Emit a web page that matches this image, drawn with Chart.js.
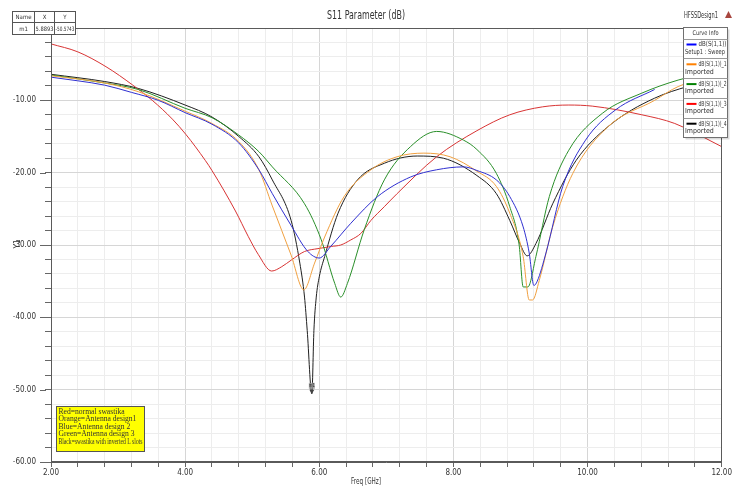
<!DOCTYPE html>
<html>
<head>
<meta charset="utf-8">
<title>S11 Parameter (dB)</title>
<script src="https://cdn.jsdelivr.net/npm/chart.js@4"></script>
<style>
  html, body { margin: 0; padding: 0; background: #fff; }
  #wrap { width: 733px; height: 490px; }
</style>
</head>
<body>
<div id="wrap"><canvas id="s11Chart" width="733" height="490"></canvas></div>
<script>
// ==========================
// DATA
// ==========================

// blue - antenna design 2 (Setup1 : Sweep)
const design2Freq = [2.0, 2.4, 2.8, 3.2, 3.6, 4.0, 4.4, 4.8, 5.1, 5.3, 5.58, 5.83, 6.0, 6.17, 6.47, 6.87, 7.36, 7.75, 8.15, 8.35, 8.64, 8.84, 9.04, 9.13, 9.2, 9.25, 9.38, 9.63, 9.97, 10.42, 11.0];
const design2Db   = [-6.8, -7.3, -7.9, -8.9, -10.0, -11.7, -13.3, -15.9, -19.6, -22.9, -27.3, -30.9, -31.8, -30.2, -27.0, -23.3, -20.6, -19.6, -19.2, -19.7, -21.0, -23.3, -27.5, -31.1, -35.6, -35.0, -31.1, -21.9, -15.5, -11.3, -8.5];

// orange - antenna design 1
const design1Freq = [2.0, 2.8, 3.3, 4.0, 4.4, 4.8, 5.1, 5.3, 5.58, 5.77, 5.93, 6.08, 6.37, 6.77, 7.16, 7.56, 7.95, 8.35, 8.64, 8.84, 9.04, 9.13, 9.18, 9.28, 9.48, 9.78, 10.31, 11.0, 11.35, 12.0];
const design1Db   = [-6.6, -7.6, -8.8, -11.5, -13.2, -15.7, -19.6, -24.6, -31.4, -36.2, -32.5, -28.9, -23.3, -19.6, -17.8, -17.3, -17.8, -19.8, -21.9, -25.6, -31.6, -37.6, -37.6, -34.9, -27.5, -20.1, -13.6, -10.0, -8.1, -6.4];

// green - antenna design 3
const design3Freq = [2.0, 2.8, 3.3, 4.0, 4.4, 4.8, 5.1, 5.3, 5.78, 6.03, 6.23, 6.32, 6.42, 6.67, 6.97, 7.36, 7.75, 8.15, 8.35, 8.64, 8.84, 8.98, 9.04, 9.11, 9.23, 9.43, 9.72, 10.22, 10.81, 11.35, 12.0];
const design3Db   = [-6.5, -7.6, -8.5, -11.1, -12.4, -14.8, -17.1, -19.2, -24.3, -29.3, -35.3, -37.2, -35.3, -27.9, -21.0, -16.4, -14.3, -15.5, -16.8, -20.1, -24.7, -30.0, -35.8, -35.8, -31.6, -23.3, -16.9, -11.8, -9.0, -7.2, -5.8];

// red - normal swastika
const normalFreq = [2.0, 2.4, 2.82, 3.22, 3.51, 3.81, 4.01, 4.3, 4.4, 4.75, 4.94, 5.09, 5.29, 5.44, 5.58, 5.78, 5.98, 6.18, 6.32, 6.47, 6.62, 6.77, 6.97, 7.16, 7.75, 8.35, 8.84, 9.33, 9.72, 10.07, 10.81, 11.3, 12.0];
const normalDb   = [-2.2, -3.3, -5.35, -7.9, -10.0, -12.6, -14.7, -18.3, -19.7, -25.3, -28.8, -31.3, -33.6, -33.0, -32.1, -30.9, -30.5, -30.2, -30.0, -29.3, -28.4, -26.6, -24.7, -22.9, -17.8, -14.2, -12.0, -10.9, -10.65, -10.8, -12.0, -13.2, -16.4];

// black - swastika with inverted L slots
const lslotFreq = [2.0, 2.8, 3.3, 4.0, 4.4, 4.8, 5.1, 5.3, 5.58, 5.71, 5.78, 5.82, 5.8893, 5.92, 5.955, 6.0, 6.08, 6.28, 6.57, 6.97, 7.46, 7.85, 8.35, 8.64, 8.84, 8.99, 9.1, 9.23, 9.48, 9.83, 10.31, 11.0, 12.0];
const lslotDb   = [-6.4, -7.4, -8.35, -10.65, -12.3, -15.0, -17.8, -21.0, -26.6, -32.5, -37.2, -41.8, -50.5743, -41.8, -37.2, -34.4, -31.6, -25.6, -21.0, -18.7, -17.7, -18.0, -20.4, -22.9, -26.6, -29.8, -31.5, -29.8, -24.3, -18.3, -13.6, -9.7, -6.8];

const seriesLabels  = ['dB(S(1,1))', 'dB(S(1,1))_1', 'dB(S(1,1))_2', 'dB(S(1,1))_3', 'dB(S(1,1))_4'];
const seriesSources = ['Setup1 : Sweep', 'Imported', 'Imported', 'Imported', 'Imported'];

const xTickLabels = ['2.00', '4.00', '6.00', '8.00', '10.00', '12.00'];
const yTickLabels = ['-10.00', '-20.00', '-30.00', '-40.00', '-50.00', '-60.00'];

const noteLines = [
    'Red=normal swastika',
    'Orange=Antenna design1',
    'Blue=Antenna design 2',
    'Green=Antenna design 3',
    'Black=swastika with inverted L slots'
];

const markerName = 'm1';
const markerFreq = 5.8893;
const markerDb = -50.5743;

// ==========================
// FONTS
// ==========================

// use a narrow face when the machine has one, HFSS labels are condensed
function pickFont(candidates) {
    const c = document.createElement('canvas').getContext('2d');
    const s = 'abcdefghijklmnopqrstuvwxyz0123456789';
    c.font = '20px monospace';
    const base = c.measureText(s).width;
    for (const f of candidates) {
        c.font = "20px '" + f + "', monospace";
        if (Math.abs(c.measureText(s).width - base) > 0.5) return f;
    }
    return 'Liberation Sans';
}

const FACE = pickFont(['Liberation Sans Narrow', 'DejaVu Sans Condensed', 'Liberation Sans']);
const NARROW = FACE !== 'Liberation Sans';
const FONT = "'" + FACE + "', 'Liberation Sans', Arial, sans-serif";
const SERIF = "'Liberation Serif', 'Times New Roman', serif";
const TICK_SIZE = NARROW ? 8 : 7;

const lineColors   = ['#3030d0', '#f0a040', '#2a8f2a', '#d83434', '#202020'];
const legendColors = ['#0000ff', '#ff8000', '#008000', '#ff0000', '#000000'];

function toPoints(freq, db) {
    return freq.map((f, i) => ({ x: f, y: db[i] }));
}

const seriesData = [
    toPoints(design2Freq, design2Db),
    toPoints(design1Freq, design1Db),
    toPoints(design3Freq, design3Db),
    toPoints(normalFreq, normalDb),
    toPoints(lslotFreq, lslotDb)
];

function isMultiple(v, step) {
    const r = v / step;
    return Math.abs(r - Math.round(r)) < 1e-6;
}

function text(c, str, x, y, size, align, color, family, maxW) {
    c.font = size + 'px ' + (family || FONT);
    c.textAlign = align || 'left';
    c.textBaseline = 'middle';
    c.fillStyle = color || '#222';
    if (maxW) c.fillText(str, x, y, maxW);
    else c.fillText(str, x, y);
}

function hline(c, x1, x2, y, color) {
    c.strokeStyle = color;
    c.beginPath();
    c.moveTo(x1, y);
    c.lineTo(x2, y);
    c.stroke();
}

// ==========================
// DECORATIONS (frame, legend, notes)
// ==========================

const hfssDecor = {
    id: 'hfssDecor',
    beforeDraw(chart) {
        const c = chart.ctx;
        c.save();
        c.fillStyle = '#ffffff';
        c.fillRect(0, 0, chart.width, chart.height);
        c.restore();
    },
    afterDraw(chart) {
        const c = chart.ctx;
        const a = chart.chartArea;
        const xs = chart.scales.x;
        const ys = chart.scales.y;
        c.save();
        c.lineWidth = 1;

        // plot frame
        c.strokeStyle = '#5a5a5a';
        c.strokeRect(Math.round(a.left) + 0.5, Math.round(a.top) + 0.5,
            Math.round(a.right - a.left) - 1, Math.round(a.bottom - a.top) - 1);

        // longer major ticks on the y axis
        yTickLabels.forEach(l => {
            const y = Math.round(ys.getPixelForValue(parseFloat(l))) + 0.5;
            hline(c, a.left - 11, a.left - 5, y, '#666');
        });

        // title and design name
        text(c, 'S11 Parameter (dB)', 366, 16, 11.5, 'center', '#333', FONT, 78);
        text(c, 'HFSSDesign1', 718, 16, 9, 'right', '#333', FONT, 34);
        c.fillStyle = '#a8463f';
        c.beginPath();
        c.moveTo(728.5, 11);
        c.lineTo(732, 18);
        c.lineTo(725, 18);
        c.closePath();
        c.fill();

        // axis titles
        text(c, 'Freq [GHz]', 366, 482, 8, 'center', '#333', FONT, 30);
        c.save();
        c.translate(18, 244);
        c.rotate(-Math.PI / 2);
        text(c, 'Y1', 0, 0, 8, 'center', '#333');
        c.restore();

        // marker table
        c.fillStyle = '#fff';
        c.fillRect(12.5, 11.5, 63, 23);
        c.strokeStyle = '#555';
        c.strokeRect(12.5, 11.5, 63, 23);
        hline(c, 12.5, 75.5, 22.5, '#555');
        c.beginPath();
        c.moveTo(34.5, 11.5); c.lineTo(34.5, 34.5);
        c.moveTo(54.5, 11.5); c.lineTo(54.5, 34.5);
        c.stroke();
        text(c, 'Name', 23.5, 17.5, 6, 'center', '#333', FONT, 18);
        text(c, 'X', 44.5, 17.5, 6, 'center', '#333', FONT, 18);
        text(c, 'Y', 65, 17.5, 6, 'center', '#333', FONT, 18);
        text(c, markerName, 23.5, 29, 6, 'center', '#333', FONT, 18);
        text(c, markerFreq.toFixed(4), 44.5, 29, 6, 'center', '#333', FONT, 18);
        text(c, markerDb.toFixed(4), 65, 29, 6, 'center', '#333', FONT, 19);

        // marker on the black curve
        const mx = xs.getPixelForValue(markerFreq);
        const my = ys.getPixelForValue(markerDb);
        c.fillStyle = '#444';
        c.beginPath();
        c.moveTo(mx, my);
        c.lineTo(mx - 2.5, my - 4);
        c.lineTo(mx + 2.5, my - 4);
        c.closePath();
        c.fill();
        c.fillStyle = 'rgba(150,150,150,0.8)';
        c.fillRect(mx - 3, my - 11, 6, 6);
        text(c, markerName, mx, my - 8, 5, 'center', '#222', FONT, 6);

        // curve info legend
        const lx = 683.5, ly = 27.5, lw = 44, lh = 110;
        c.fillStyle = 'rgba(0,0,0,0.15)';
        c.fillRect(lx + 2, ly + 2, lw, lh);
        c.fillStyle = '#fff';
        c.fillRect(lx, ly, lw, lh);
        c.strokeStyle = '#707070';
        c.strokeRect(lx, ly, lw, lh);
        text(c, 'Curve Info', lx + lw / 2, ly + 6, 6.5, 'center', '#333', FONT, 26);
        seriesLabels.forEach((lab, i) => {
            const top = ly + 11 + i * 19.8;
            hline(c, lx, lx + lw, Math.round(top) + 0.5, '#9a9a9a');
            c.lineWidth = 2;
            hline(c, lx + 3, lx + 13, top + 6, legendColors[i]);
            c.lineWidth = 1;
            text(c, lab, lx + 15, top + 6, 7, 'left', '#333', FONT, lw - 16);
            text(c, seriesSources[i], lx + 1.5, top + 13.5, 7, 'left', '#333', FONT, lw - 4);
        });

        // yellow note box
        c.fillStyle = '#ffff00';
        c.fillRect(56.5, 406.5, 88, 45);
        c.strokeStyle = '#555';
        c.strokeRect(56.5, 406.5, 88, 45);
        noteLines.forEach((l, i) => {
            text(c, l, 58.5, 411.5 + i * 7.6, 7.6, 'left', '#333', SERIF, 84);
        });

        c.restore();
    }
};

// ==========================
// CHART
// ==========================

Chart.defaults.font.family = FONT;
Chart.defaults.color = '#333';

const ctx = document.getElementById('s11Chart').getContext('2d');

new Chart(ctx, {
    type: 'line',
    data: {
        datasets: seriesLabels.map((lab, i) => ({
            label: lab,
            data: seriesData[i],
            borderColor: lineColors[i],
            borderWidth: 1,
            pointRadius: 0,
            fill: false,
            cubicInterpolationMode: 'monotone'
        }))
    },
    options: {
        responsive: false,
        animation: false,
        devicePixelRatio: 1,
        events: [],
        layout: { padding: { top: 28, right: 6, bottom: 0, left: 0 } },
        plugins: {
            legend: { display: false },
            title: { display: false },
            tooltip: { enabled: false }
        },
        scales: {
            x: {
                type: 'linear',
                min: 2,
                max: 12,
                afterFit: s => { s.height = 28; },
                afterBuildTicks: s => {
                    const t = [];
                    for (let i = 0; i <= 25; i++) t.push({ value: Math.round((2 + i * 0.4) * 10) / 10 });
                    s.ticks = t;
                },
                ticks: {
                    autoSkip: false,
                    maxRotation: 0,
                    padding: 1,
                    font: { size: TICK_SIZE },
                    color: '#333',
                    callback: v => {
                        const l = v.toFixed(2);
                        return xTickLabels.includes(l) ? l : '';
                    }
                },
                grid: {
                    color: c => (c.tick && isMultiple(c.tick.value, 2)) ? '#d6d6d6' : '#ededed',
                    tickColor: '#666',
                    tickLength: 5
                },
                border: { display: true, color: '#5a5a5a' }
            },
            y: {
                type: 'linear',
                min: -60,
                max: 0,
                afterFit: s => { s.width = 51; },
                afterBuildTicks: s => {
                    const t = [];
                    for (let i = 0; i <= 30; i++) t.push({ value: -60 + i * 2 });
                    s.ticks = t;
                },
                ticks: {
                    autoSkip: false,
                    padding: 9,
                    font: { size: TICK_SIZE },
                    color: '#333',
                    callback: v => {
                        const l = v.toFixed(2);
                        return yTickLabels.includes(l) ? l : '';
                    }
                },
                grid: {
                    color: c => (c.tick && isMultiple(c.tick.value, 10)) ? '#d6d6d6' : '#ededed',
                    tickColor: '#666',
                    tickLength: 6
                },
                border: { display: true, color: '#5a5a5a' }
            }
        }
    },
    plugins: [hfssDecor]
});
</script>
</body>
</html>
